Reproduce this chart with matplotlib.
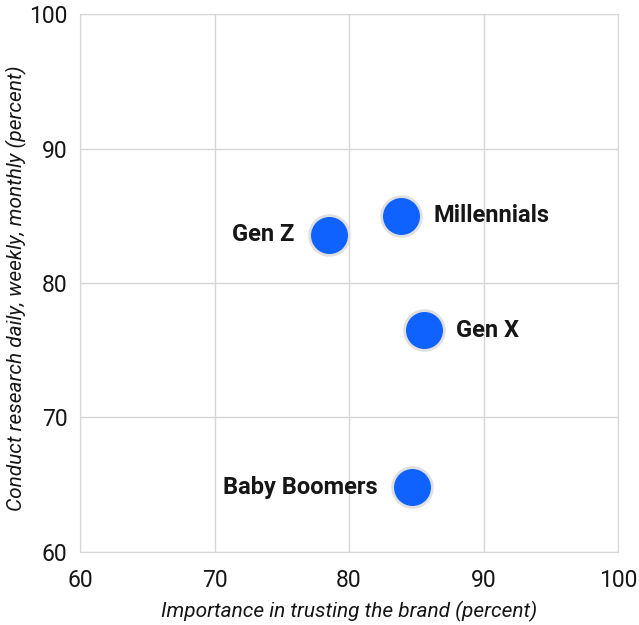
import matplotlib.pyplot as plt

groups = ["Gen Z", "Millennials", "Gen X", "Baby Boomers"]
trust = [78.5, 83.9, 85.6, 84.7]
research = [83.6, 85.0, 76.5, 64.8]
label_side = ["left", "right", "right", "left"]

plt.rcParams['font.family'] = ['Roboto', 'DejaVu Sans']

fig = plt.figure(figsize=(6.39, 6.25), dpi=100)
ax = fig.add_axes([80 / 639, 73 / 625, 538 / 639, 538 / 625])

ax.scatter(trust, research, s=820, color="#0f62fe", edgecolors="#e0e0e0",
           linewidths=2, zorder=3)

for name, x, y, side in zip(groups, trust, research, label_side):
    dx = 23 if side == "right" else -25
    ha = "left" if side == "right" else "right"
    ax.annotate(name, (x, y), xytext=(dx, 0), textcoords="offset points",
                ha=ha, va="center", fontsize=17, fontweight="bold", color="#161616")

ax.set_xlim(60, 100)
ax.set_ylim(60, 100)
ax.set_xticks([60, 70, 80, 90, 100])
ax.set_yticks([60, 70, 80, 90, 100])
ax.grid(True, color="#d6d6d6", linewidth=1)
ax.set_axisbelow(True)
for s in ax.spines.values():
    s.set_color("#d6d6d6")
ax.tick_params(length=0, labelsize=16.5, colors="#161616")
ax.tick_params(axis="x", pad=12)
ax.tick_params(axis="y", pad=9)

ax.set_xlabel("Importance in trusting the brand (percent)", fontsize=15,
              style="italic", color="#161616")
ax.set_ylabel("Conduct research daily, weekly, monthly (percent)", fontsize=15,
              style="italic", color="#161616")
ax.xaxis.set_label_coords(0.5, -0.091)
ax.yaxis.set_label_coords(-0.0985, 0.49)

plt.savefig("out.png", dpi=100)
